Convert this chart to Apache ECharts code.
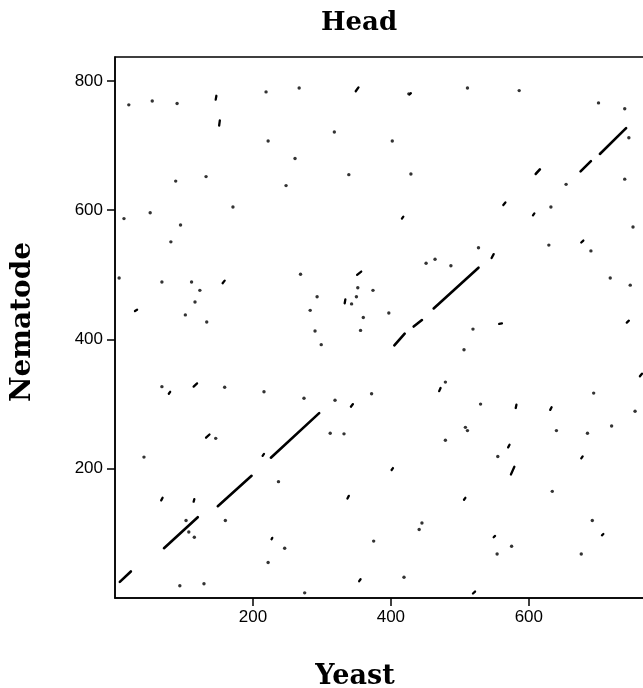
<!DOCTYPE html>
<html>
<head>
<meta charset="utf-8">
<script src="https://cdn.jsdelivr.net/npm/echarts@6/dist/echarts.min.js"></script>
<style>
  html, body { margin: 0; padding: 0; background: #fff; overflow: hidden; }
  #wrap { width: 643px; height: 688px; overflow: hidden; }
  #chart { width: 680px; height: 688px; }
</style>
</head>
<body>
<div id="wrap"><div id="chart"></div></div>
<script>
// positions are residue numbers: yeast on x, nematode on y
const xTicks = [200, 400, 600];
const yTicks = [200, 400, 600, 800];

// long matching runs, [x1, y1, x2, y2]
const diagonalRuns = [
  [7, 25, 23, 41], [71, 77, 120, 125], [149, 142, 198, 189], [226, 217, 296, 286],
  [405, 391, 420, 409], [433, 420, 445, 430], [462, 448, 527, 511],
  [610, 656, 616, 663], [675, 660, 690, 676], [703, 687, 741, 727]
];

// short matching runs
const shortRuns = [
  [146, 771, 147, 777], [151, 731, 152, 739], [349, 784, 353, 790], [351, 500, 357, 505],
  [333, 456, 334, 462], [156, 487, 159, 491], [29, 444, 32, 446], [114, 327, 119, 332],
  [342, 296, 345, 300], [546, 526, 549, 532], [676, 550, 679, 553], [742, 426, 745, 429],
  [761, 343, 764, 347], [470, 320, 472, 325], [581, 294, 582, 299], [631, 291, 633, 295],
  [132, 248, 137, 253], [67, 151, 69, 155], [114, 149, 115, 153], [214, 220, 216, 223],
  [337, 154, 339, 158], [227, 91, 228, 93], [354, 26, 356, 29], [401, 198, 403, 201],
  [570, 233, 572, 237], [574, 191, 579, 203], [676, 216, 678, 219], [506, 152, 508, 155],
  [706, 97, 708, 99], [549, 94, 551, 96], [519, 7, 522, 10], [606, 592, 608, 595],
  [563, 608, 566, 612], [416, 587, 418, 590], [427, 779, 429, 781], [557, 424, 561, 425],
  [78, 316, 80, 319]
];

// single dots
const dots = [
  [20, 763], [54, 769], [90, 765], [219, 783], [267, 789], [318, 721], [222, 707], [261, 680],
  [339, 655], [248, 638], [88, 645], [132, 652], [171, 605], [13, 587], [51, 596], [95, 577],
  [586, 785], [426, 780], [701, 766], [739, 757], [745, 712], [739, 648], [654, 640],
  [632, 605], [429, 656], [402, 707], [511, 789], [751, 574],
  [81, 551], [6, 495], [68, 489], [111, 489], [123, 476], [116, 458], [102, 438], [133, 427],
  [269, 501], [352, 480], [350, 466], [374, 476], [293, 466], [343, 455], [283, 445], [290, 413],
  [356, 414], [360, 434], [299, 392], [68, 327], [159, 326], [216, 319], [274, 309], [319, 306],
  [451, 518], [464, 524], [487, 514], [527, 542], [397, 441], [519, 416], [506, 384], [629, 546],
  [690, 537], [718, 495], [747, 484], [479, 334], [372, 316], [530, 300], [694, 317], [754, 289],
  [720, 266], [508, 264], [511, 259],
  [146, 247], [42, 218], [103, 120], [107, 102], [115, 94], [160, 120], [237, 180], [312, 255],
  [332, 254], [246, 77], [222, 55], [94, 19], [129, 22], [275, 8], [375, 88],
  [479, 244], [555, 219], [640, 259], [685, 255], [634, 165], [692, 120], [445, 116], [441, 106],
  [575, 80], [554, 68], [676, 68], [419, 32]
];

const toLines = (runs) => runs.map((r) => ({ coords: [[r[0], r[1]], [r[2], r[3]]] }));

const labelFont = { color: '#000', fontSize: 17, fontFamily: '"Liberation Sans", Arial, sans-serif' };
const serif = '"DejaVu Serif", serif';

const chart = echarts.init(document.getElementById('chart'));
chart.setOption({
  animation: false,
  grid: {
    left: 115, width: 538, top: 57, bottom: 90,
    show: true, borderColor: '#000', borderWidth: 1.5
  },
  xAxis: {
    type: 'value', min: 0, max: 780,
    splitLine: { show: false },
    axisLine: { show: true, lineStyle: { color: '#000', width: 1.5 } },
    axisTick: { show: true, length: 8, lineStyle: { color: '#000', width: 1.5 }, customValues: xTicks },
    axisLabel: Object.assign({ margin: 11, customValues: xTicks }, labelFont)
  },
  yAxis: {
    type: 'value', min: 0, max: 837,
    splitLine: { show: false },
    axisLine: { show: true, lineStyle: { color: '#000', width: 1.5 } },
    axisTick: { show: true, length: 8, lineStyle: { color: '#000', width: 1.5 }, customValues: yTicks },
    axisLabel: Object.assign({ margin: 12, customValues: yTicks }, labelFont)
  },
  graphic: [
    { type: 'text', x: 359, y: 23, style: { text: 'Head', font: 'bold 26px ' + serif, fill: '#000', align: 'center', verticalAlign: 'middle' } },
    { type: 'text', x: 355, y: 677, style: { text: 'Yeast', font: 'bold 27px ' + serif, fill: '#000', align: 'center', verticalAlign: 'middle' } },
    { type: 'text', x: 23, y: 322, rotation: Math.PI / 2, style: { text: 'Nematode', font: 'bold 28px ' + serif, fill: '#000', align: 'center', verticalAlign: 'middle' } }
  ],
  series: [
    {
      type: 'lines', coordinateSystem: 'cartesian2d', silent: true,
      data: toLines(diagonalRuns),
      lineStyle: { color: '#000', width: 2.6, opacity: 1, cap: 'round' }
    },
    {
      type: 'lines', coordinateSystem: 'cartesian2d', silent: true,
      data: toLines(shortRuns),
      lineStyle: { color: '#000', width: 2.3, opacity: 1, cap: 'round' }
    },
    {
      type: 'scatter', silent: true,
      data: dots,
      symbolSize: 3.4,
      itemStyle: { color: '#000' }
    }
  ]
});
</script>
</body>
</html>
